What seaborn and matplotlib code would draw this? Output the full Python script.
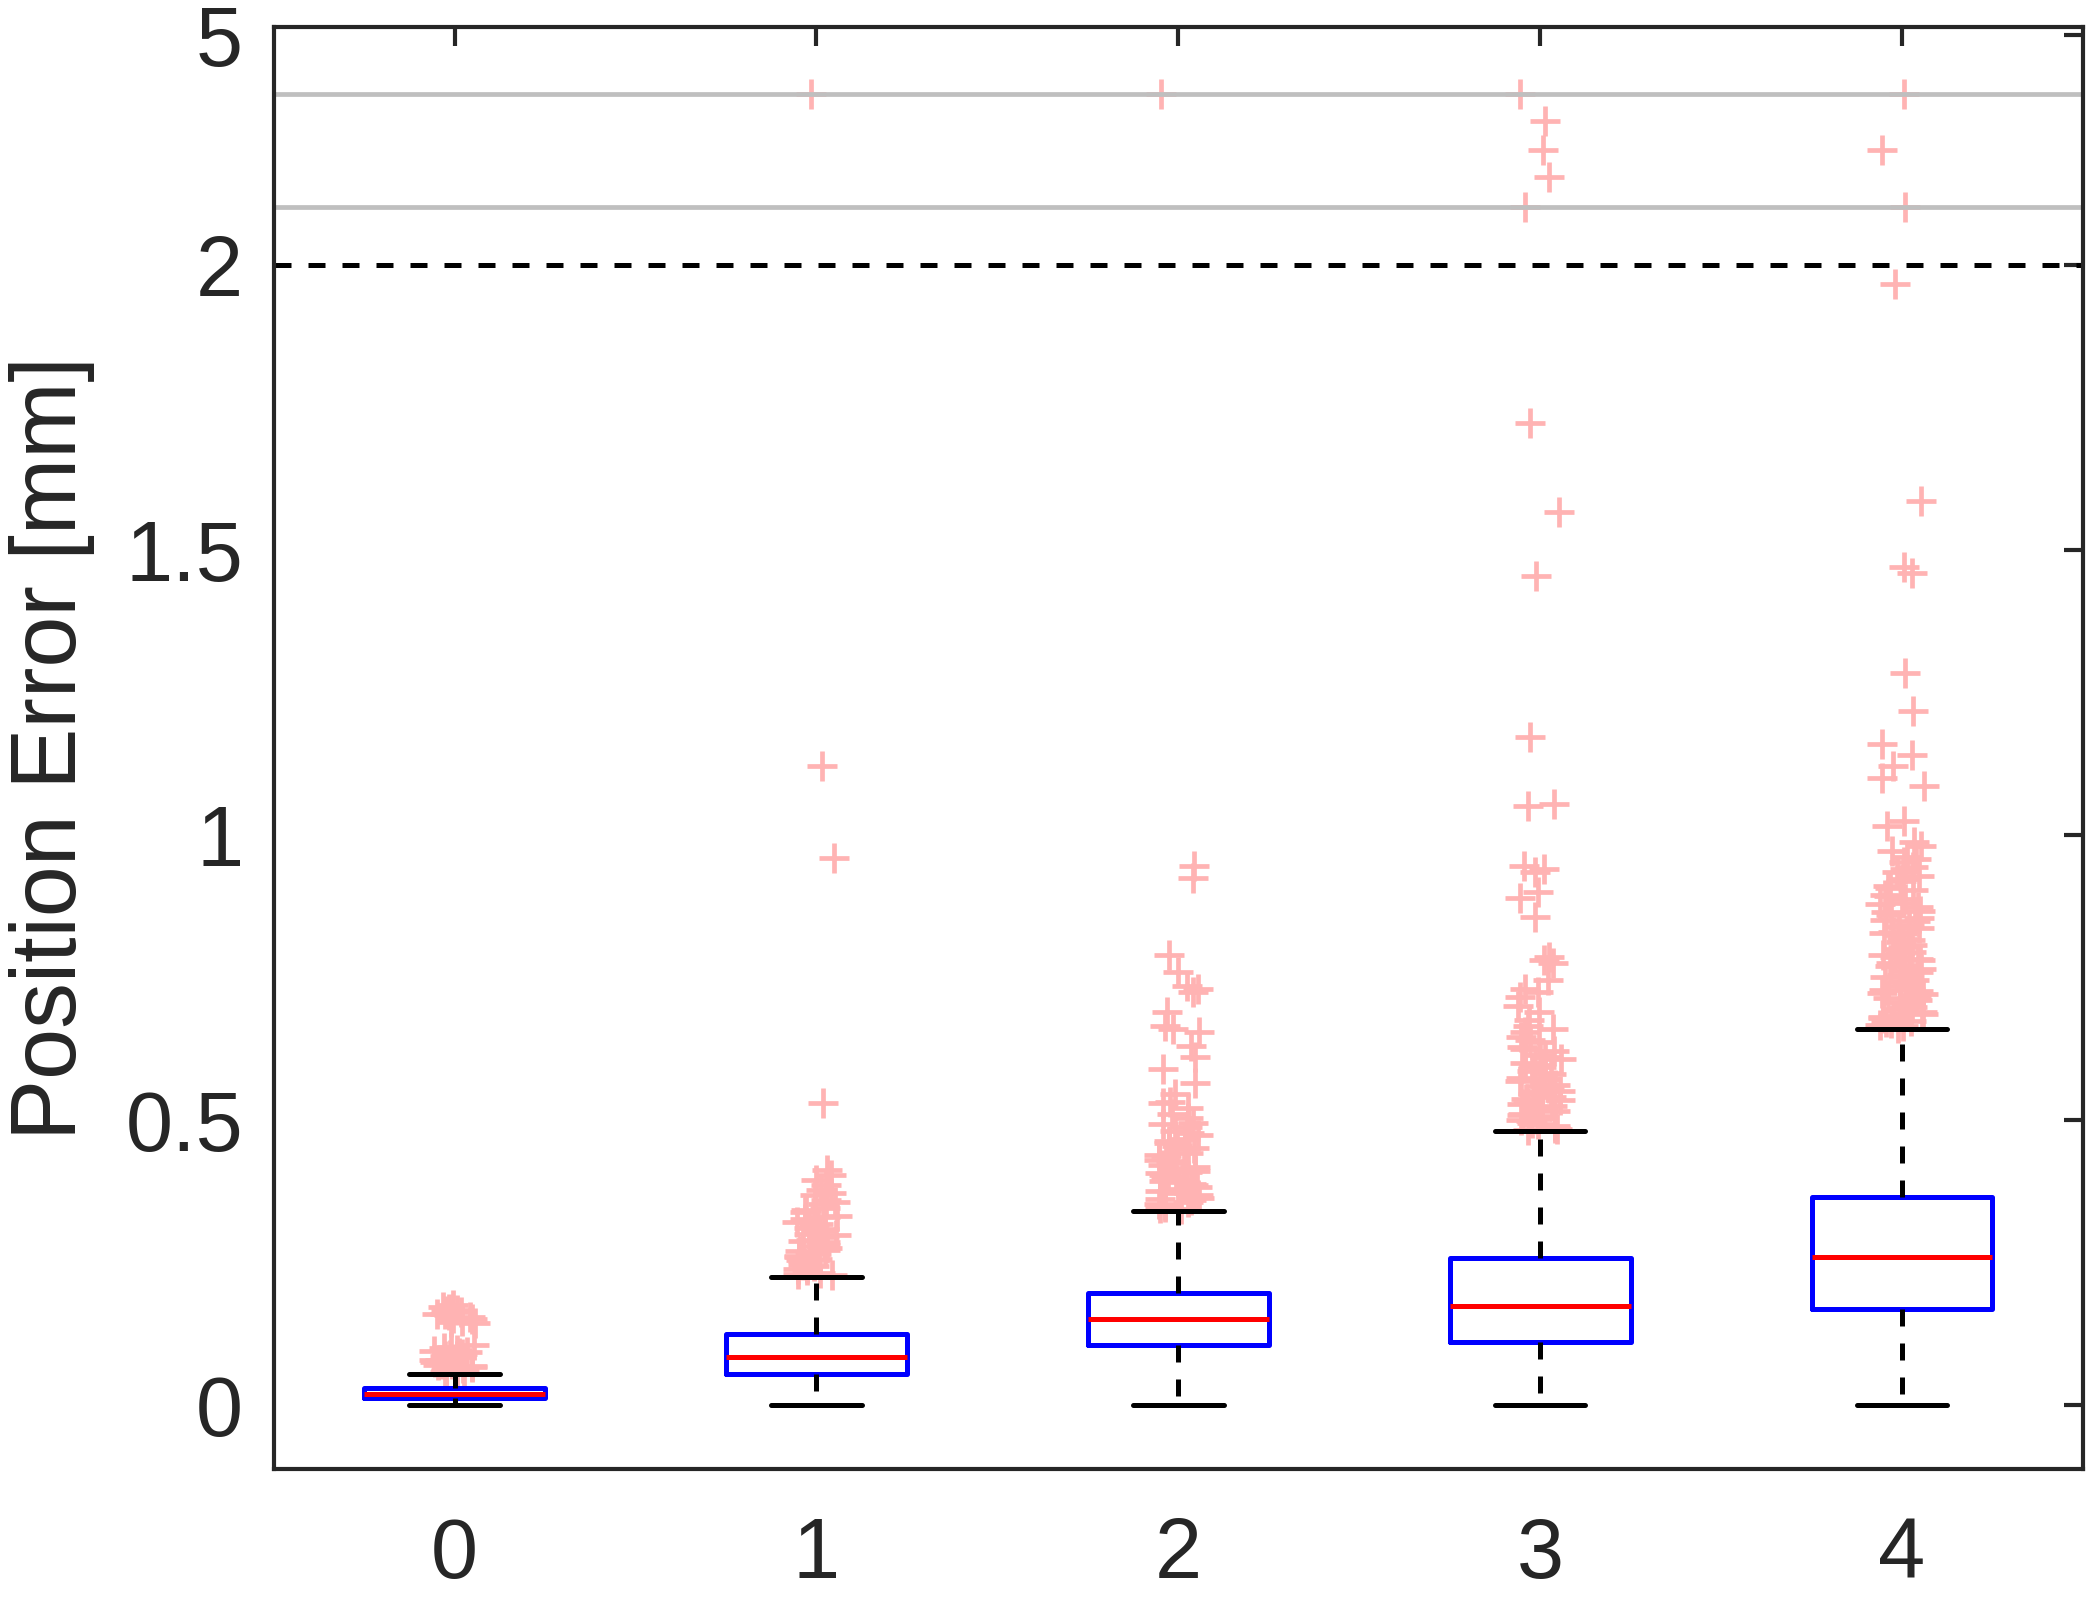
import numpy as np
import pandas as pd
import matplotlib
matplotlib.use('Agg')
import matplotlib.pyplot as plt
import seaborn as sns

# --- данные ---
categories = ['0', '1', '2', '3', '4']

# пятичисловая сводка каждого бокса (усы = min/max без выбросов)
whisker_lo = [0.0, 0.0, 0.0, 0.0, 0.0]
q1 = [0.012, 0.054, 0.105, 0.110, 0.169]
median = [0.019, 0.084, 0.150, 0.173, 0.260]
q3 = [0.030, 0.124, 0.197, 0.258, 0.365]
whisker_hi = [0.054, 0.225, 0.340, 0.480, 0.660]

# выбросы (значения выше 2 уже в сжатой шкале верхней полосы)
outliers_0 = [0.057, 0.059, 0.061, 0.063, 0.066, 0.068, 0.070, 0.072, 0.075, 0.077,
              0.079, 0.081, 0.084, 0.086, 0.089, 0.091, 0.094, 0.097, 0.099, 0.102,
              0.058, 0.064, 0.071, 0.078, 0.085, 0.092, 0.060, 0.074, 0.088, 0.105,
              0.143, 0.147, 0.150, 0.154, 0.157, 0.160, 0.163, 0.166, 0.169, 0.172,
              0.145, 0.152, 0.159, 0.165, 0.175]
outliers_1 = [0.228, 0.232, 0.236, 0.240, 0.244, 0.248, 0.252, 0.256, 0.260, 0.264,
              0.268, 0.272, 0.276, 0.280, 0.285, 0.290, 0.295, 0.300, 0.305, 0.310,
              0.315, 0.320, 0.326, 0.332, 0.338, 0.345, 0.352, 0.360, 0.368, 0.377,
              0.230, 0.238, 0.246, 0.254, 0.262, 0.270, 0.278, 0.288, 0.298, 0.308,
              0.318, 0.329, 0.341, 0.356, 0.372,
              0.386, 0.395, 0.404, 0.412, 0.530, 0.960, 1.120, 2.300]
outliers_2 = [0.343, 0.347, 0.351, 0.355, 0.359, 0.363, 0.367, 0.371, 0.375, 0.379,
              0.383, 0.387, 0.391, 0.395, 0.399, 0.403, 0.407, 0.411, 0.415, 0.420,
              0.425, 0.430, 0.436, 0.442, 0.448, 0.454, 0.460, 0.467, 0.474, 0.481,
              0.345, 0.353, 0.361, 0.369, 0.377, 0.385, 0.393, 0.401, 0.409, 0.418,
              0.428, 0.439, 0.451, 0.463, 0.477, 0.492,
              0.488, 0.495, 0.503, 0.511, 0.520, 0.530, 0.532, 0.545, 0.565, 0.590,
              0.610, 0.630, 0.655, 0.660, 0.665, 0.690, 0.725, 0.730, 0.735, 0.760,
              0.790, 0.925, 0.945, 2.300]
outliers_3 = [0.482, 0.486, 0.490, 0.494, 0.498, 0.502, 0.506, 0.510, 0.515, 0.520,
              0.525, 0.530, 0.535, 0.540, 0.545, 0.550, 0.556, 0.562, 0.568, 0.574,
              0.580, 0.586, 0.592, 0.599, 0.606, 0.613, 0.620, 0.628, 0.636, 0.645,
              0.484, 0.492, 0.500, 0.508, 0.517, 0.527, 0.537, 0.548, 0.559, 0.571,
              0.583, 0.596, 0.610, 0.624, 0.640, 0.660,
              0.655, 0.665, 0.675, 0.690, 0.700, 0.715, 0.725, 0.730, 0.745, 0.775,
              0.780, 0.785, 0.856, 0.890, 0.900, 0.935, 0.940, 0.945, 1.050, 1.055,
              1.171, 1.455, 1.566, 1.723, 2.101, 2.155, 2.201, 2.253, 2.300]
outliers_4 = [0.662, 0.666, 0.670, 0.674, 0.678, 0.682, 0.686, 0.690, 0.694, 0.698,
              0.702, 0.706, 0.710, 0.714, 0.718, 0.722, 0.726, 0.730, 0.734, 0.738,
              0.742, 0.746, 0.750, 0.755, 0.760, 0.765, 0.770, 0.775, 0.780, 0.785,
              0.790, 0.795, 0.800, 0.806, 0.812, 0.818, 0.824, 0.830, 0.836, 0.842,
              0.848, 0.854, 0.860, 0.867, 0.874, 0.881, 0.888, 0.895, 0.903, 0.911,
              0.664, 0.672, 0.680, 0.688, 0.696, 0.704, 0.712, 0.720, 0.728, 0.736,
              0.744, 0.752, 0.762, 0.772, 0.782, 0.792, 0.803, 0.815, 0.827, 0.839,
              0.851, 0.864, 0.878, 0.892, 0.907, 0.923, 0.940, 0.958,
              0.919, 0.927, 0.935, 0.944, 0.953, 0.962, 0.971, 0.980, 0.988, 1.015,
              1.025, 1.085, 1.100, 1.120, 1.140, 1.160, 1.217, 1.284, 1.460, 1.470,
              1.585, 1.967, 2.101, 2.201, 2.300]

yticks = [0, 0.5, 1, 1.5, 2, 2.403]
ytick_labels = ['0', '0.5', '1', '1.5', '2', '5']
gray_lines = [2.101, 2.300]

# --- таблицы для seaborn ---
summary = pd.DataFrame({
    'group': np.repeat(categories, 5),
    'value': np.ravel(np.column_stack([whisker_lo, q1, median, q3, whisker_hi])),
})
out_lists = [outliers_0, outliers_1, outliers_2, outliers_3, outliers_4]
flyers = pd.DataFrame({
    'group': np.concatenate([[c] * len(v) for c, v in zip(categories, out_lists)]),
    'value': np.concatenate(out_lists),
})

# --- график ---
sns.set_theme(style='white')
plt.rcParams['font.family'] = ['Liberation Sans', 'DejaVu Sans']

fig = plt.figure(figsize=(10.47, 7.995), dpi=200)
ax = fig.add_axes([0.1307, 0.0815, 0.8640, 0.9015])

np.random.seed(3)
sns.stripplot(data=flyers, x='group', y='value', order=categories, ax=ax,
              jitter=0.06, marker='+', color='#ffb3b3', size=11, linewidth=1.7,
              zorder=1)

lw = 1.8
sns.boxplot(data=summary, x='group', y='value', order=categories, ax=ax,
            width=0.5, whis=(0, 100), showfliers=False, fill=False,
            boxprops=dict(color='#0000ff', linewidth=lw),
            medianprops=dict(color='#ff0000', linewidth=lw),
            whiskerprops=dict(color='black', linewidth=lw, linestyle=(0, (3.4, 3.4))),
            capprops=dict(color='black', linewidth=lw))

for y in gray_lines:
    ax.axhline(y, color='#bfbfbf', linewidth=1.7, zorder=2)
ax.axhline(2, color='black', linewidth=lw, linestyle=(0, (3.4, 3.4)), zorder=2)

ax.set_xlim(-0.5, 4.5)
ax.set_ylim(-0.112, 2.417)
ax.set_yticks(yticks)
ax.set_yticklabels(ytick_labels)
ax.set_xlabel('')
ax.set_ylabel('Position Error [mm]', fontsize=33, color='#262626', labelpad=11)

ax.tick_params(axis='both', direction='in', length=7, width=1.5, color='#262626',
               labelsize=30.5, labelcolor='#262626', top=True, right=True)
ax.tick_params(axis='x', pad=17)
ax.tick_params(axis='y', pad=11)
for side in ax.spines.values():
    side.set_visible(True)
    side.set_color('#262626')
    side.set_linewidth(1.5)

plt.savefig('out.png', dpi=200)
